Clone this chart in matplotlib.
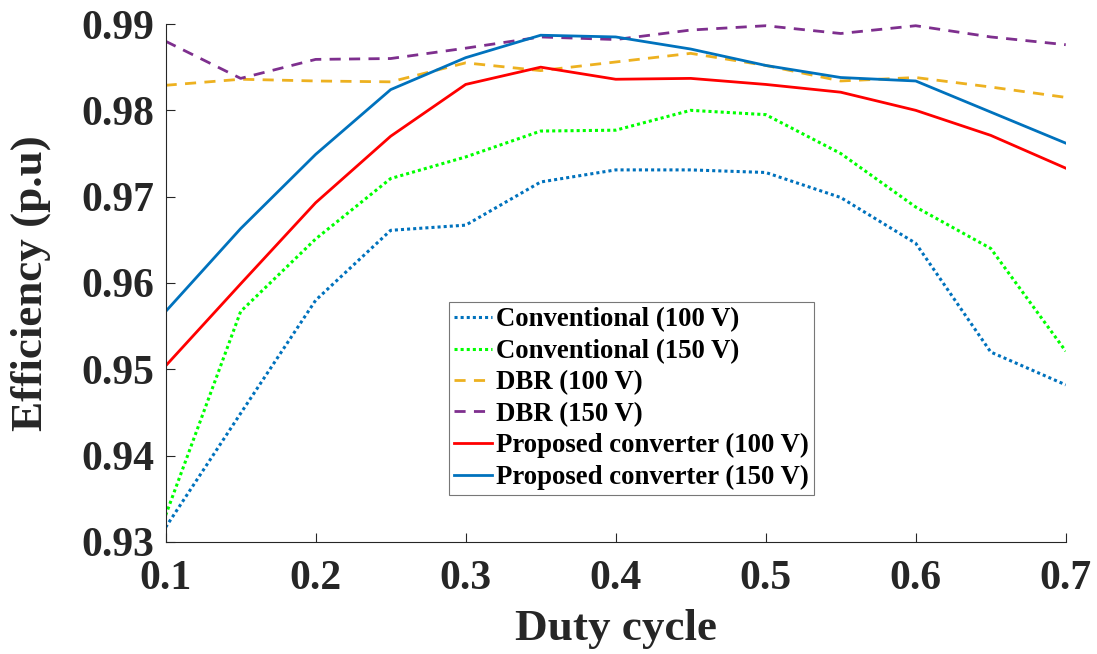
import numpy as np
import matplotlib
matplotlib.use("Agg")
import matplotlib.pyplot as plt

# duty cycle sweep
duty = [0.1, 0.15, 0.2, 0.25, 0.3, 0.35, 0.4, 0.45, 0.5, 0.55, 0.6, 0.65, 0.7]

# efficiency (p.u) of each topology
conv_100 = [0.9317, 0.9449, 0.9580, 0.9661, 0.9667, 0.9717, 0.9731,
            0.9731, 0.9728, 0.9699, 0.9646, 0.9520, 0.9482]
conv_150 = [0.9331, 0.9567, 0.9651, 0.9721, 0.9746, 0.9776, 0.9777,
            0.9800, 0.9795, 0.9750, 0.9688, 0.9640, 0.9521]
dbr_100 = [0.9829, 0.9836, 0.9834, 0.9833, 0.9855, 0.9846, 0.9856,
           0.9866, 0.9852, 0.9834, 0.9838, 0.9827, 0.9815]
dbr_150 = [0.9880, 0.9837, 0.9859, 0.9860, 0.9872, 0.9885, 0.9882,
           0.9893, 0.9898, 0.9889, 0.9898, 0.9885, 0.9876]
prop_100 = [0.9504, 0.9599, 0.9693, 0.9770, 0.9830, 0.9850, 0.9836,
            0.9837, 0.9830, 0.9821, 0.9800, 0.9771, 0.9733]
prop_150 = [0.9567, 0.9663, 0.9749, 0.9824, 0.9861, 0.9887, 0.9885,
            0.9871, 0.9852, 0.9838, 0.9834, 0.9798, 0.9762]

labels = ["Conventional (100 V)", "Conventional (150 V)", "DBR (100 V)",
          "DBR (150 V)", "Proposed converter (100 V)", "Proposed converter (150 V)"]

x_ticks = [0.1, 0.2, 0.3, 0.4, 0.5, 0.6, 0.7]
y_ticks = [0.93, 0.94, 0.95, 0.96, 0.97, 0.98, 0.99]

plt.rcParams['font.family'] = ['Liberation Serif', 'DejaVu Serif']
plt.rcParams['font.weight'] = 'bold'

fig = plt.figure(figsize=(10.97, 6.54), dpi=100)
ax = fig.add_axes([0.151, 0.1713, 0.8205, 0.792])

ax.plot(duty, conv_100, color="#0072BD", linestyle=(0, (1, 1)), lw=2.2, label=labels[0])
ax.plot(duty, conv_150, color="#00FF00", linestyle=(0, (1, 1)), lw=2.2, label=labels[1])
ax.plot(duty, dbr_100, color="#EDB120", linestyle=(0, (4, 3)), lw=2.0, label=labels[2])
ax.plot(duty, dbr_150, color="#7E2F8E", linestyle=(0, (4, 3)), lw=2.0, label=labels[3])
ax.plot(duty, prop_100, color="#FF0000", linestyle="-", lw=2.0, label=labels[4])
ax.plot(duty, prop_150, color="#0072BD", linestyle="-", lw=2.0, label=labels[5])

ax.set_xlim(0.1, 0.7)
ax.set_ylim(0.93, 0.99)
ax.set_xticks(x_ticks)
ax.set_yticks(y_ticks)
ax.set_xticklabels([f"{v:g}" for v in x_ticks])
ax.set_yticklabels([f"{v:.2f}" for v in y_ticks])

for side in ("top", "right"):
    ax.spines[side].set_visible(False)
for side in ("left", "bottom"):
    ax.spines[side].set_color("#262626")
    ax.spines[side].set_linewidth(0.8)

ax.tick_params(direction="in", length=6.5, width=0.8, colors="#262626", labelsize=30)
ax.tick_params(axis="x", pad=13)
ax.tick_params(axis="y", pad=8)

ax.set_xlabel("Duty cycle", fontsize=32.5, fontweight="bold", color="#262626", labelpad=8)
ax.set_ylabel("Efficiency (p.u)", fontsize=32.5, fontweight="bold", color="#262626", labelpad=22)

leg = ax.legend(loc="upper left", bbox_to_anchor=(0.3146, 0.463),
                prop={"weight": "bold", "size": 19.3}, frameon=True, fancybox=False,
                handlelength=1.4, handletextpad=0.15, borderpad=0.2,
                labelspacing=0.24, borderaxespad=0)
leg.get_frame().set_edgecolor("#555555")
leg.get_frame().set_linewidth(0.8)

fig.savefig("out.png", dpi=100)
